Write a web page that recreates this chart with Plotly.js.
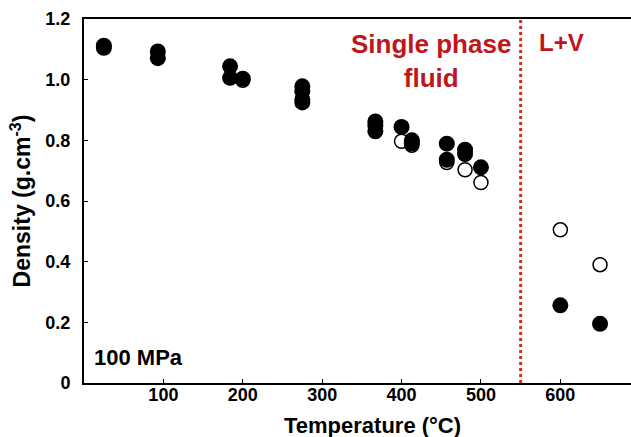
<!DOCTYPE html>
<html>
<head>
<meta charset="utf-8">
<script src="https://cdn.plot.ly/plotly-3.0.1.min.js"></script>
<style>html,body{margin:0;padding:0;background:#fff;}#chart{width:631px;height:437px;}</style>
</head>
<body>
<div id="chart"></div>
<script>
// Filled circles (measured)
const filledT = [25, 25, 93, 93, 184, 184, 200, 275, 275, 275, 275, 367, 367, 367, 400, 413, 413, 457, 457, 480, 480, 500, 600, 650];
const filledD = [1.112, 1.105, 1.093, 1.071, 1.044, 1.006, 1.003, 0.978, 0.962, 0.935, 0.925, 0.862, 0.848, 0.830, 0.844, 0.800, 0.790, 0.789, 0.736, 0.769, 0.755, 0.711, 0.256, 0.195];
// Open circles (calculated)
const openT = [200, 400, 413, 457, 480, 500, 600, 650];
const openD = [0.998, 0.797, 0.784, 0.727, 0.703, 0.661, 0.505, 0.390];
// Phase boundary
const boundaryT = [550, 550];
const boundaryD = [0, 1.2];
const xTicks = [100, 200, 300, 400, 500, 600];
const xTickText = ["100", "200", "300", "400", "500", "600"];
const yTicks = [0, 0.2, 0.4, 0.6, 0.8, 1.0, 1.2];
const yTickText = ["0", "0.2", "0.4", "0.6", "0.8", "1.0", "1.2"];

const FONT = "Arial, 'Liberation Sans', sans-serif";
const RED = "#c0161b";

const traces = [
  {x: boundaryT, y: boundaryD, mode: "lines", type: "scatter", hoverinfo: "skip",
   line: {color: "#dc2a1c", width: 3, dash: "dot"}},
  {x: openT, y: openD, mode: "markers", type: "scatter",
   marker: {size: 14, color: "#ffffff", line: {color: "#000000", width: 1.5}}},
  {x: filledT, y: filledD, mode: "markers", type: "scatter",
   marker: {size: 16, color: "#000000", line: {width: 0}}}
];

const layout = {
  width: 631, height: 437,
  margin: {l: 84, r: 0, t: 19, b: 54, pad: 0},
  paper_bgcolor: "#ffffff", plot_bgcolor: "#ffffff",
  showlegend: false,
  font: {family: FONT, size: 18, color: "#000"},
  xaxis: {
    range: [0, 689], showgrid: false, zeroline: false,
    showline: true, linecolor: "#000", linewidth: 2, mirror: true,
    ticks: "inside", ticklen: 4, tickwidth: 1, tickcolor: "#000",
    tickvals: xTicks, ticktext: xTickText,
    tickfont: {family: FONT, size: 18, color: "#000", weight: "bold"},
    ticklabelstandoff: -6
  },
  yaxis: {
    range: [0, 1.2], showgrid: false, zeroline: false,
    showline: true, linecolor: "#000", linewidth: 2,
    ticks: "inside", ticklen: 4, tickwidth: 1, tickcolor: "#000",
    tickvals: yTicks, ticktext: yTickText,
    tickfont: {family: FONT, size: 18, color: "#000", weight: "bold"},
    ticklabelstandoff: 8,
    title: {text: "Density (g.cm<sup>-3</sup>)", standoff: 8,
            font: {family: FONT, size: 23, color: "#000", weight: "bold"}}
  },
  annotations: [
    {text: "Temperature (°C)", xref: "x", yref: "paper", x: 364, y: 0,
     xanchor: "center", yanchor: "top", yshift: -28, showarrow: false,
     font: {family: FONT, size: 22, color: "#000", weight: "bold"}},
    {text: "Single phase<br>fluid", xref: "x", yref: "y", x: 437, y: 1.2, yanchor: "top", yshift: -8,
     showarrow: false, align: "center",
     font: {family: FONT, size: 26, color: RED, weight: "bold"}},
    {text: "L+V", xref: "x", yref: "y", x: 601, y: 1.2, yanchor: "top", yshift: -8,
     showarrow: false, font: {family: FONT, size: 24, color: RED, weight: "bold"}},
    {text: "100 MPa", xref: "x", yref: "y", x: 10, y: 0.085, xanchor: "left",
     showarrow: false, font: {family: FONT, size: 22, color: "#000", weight: "bold"}}
  ]
};

Plotly.newPlot("chart", traces, layout, {displayModeBar: false, staticPlot: true});
</script>
</body>
</html>
